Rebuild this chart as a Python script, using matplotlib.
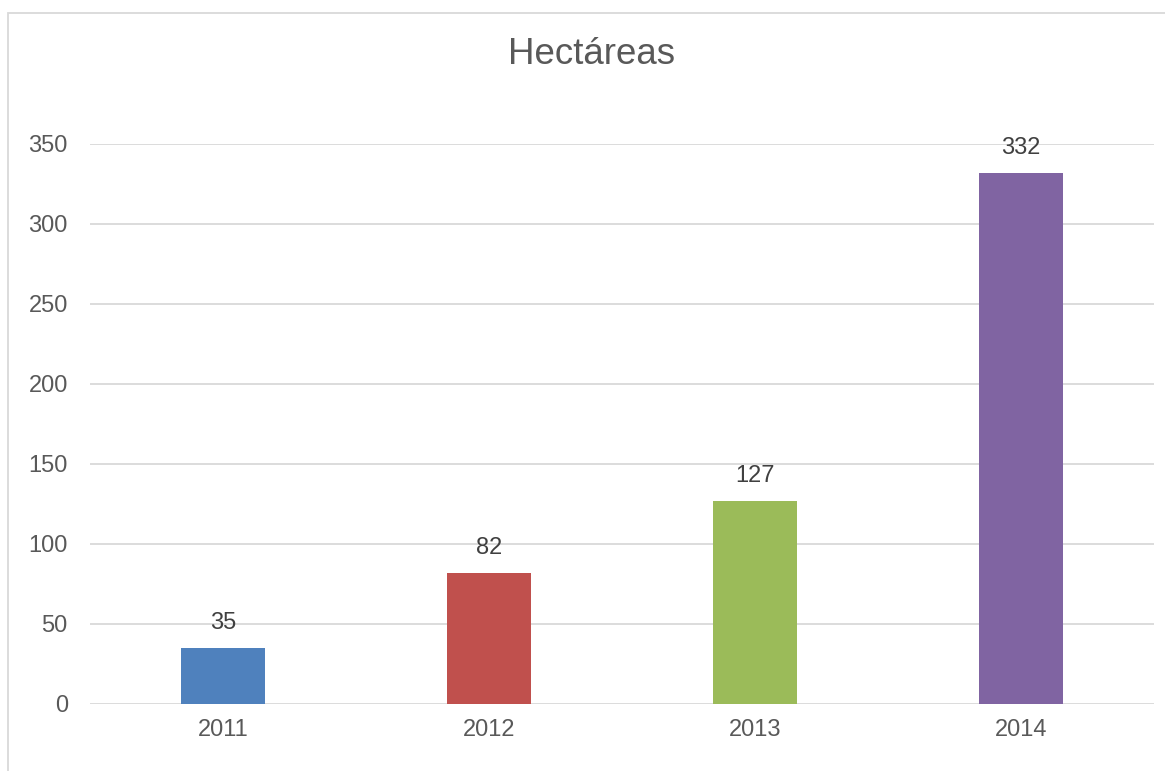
import matplotlib.pyplot as plt
from matplotlib.patches import Rectangle

years = ["2011", "2012", "2013", "2014"]
hectareas = [35, 82, 127, 332]
bar_colors = ["#4F81BD", "#C0504D", "#9BBB59", "#8064A2"]
y_ticks = [0, 50, 100, 150, 200, 250, 300, 350]

W, H = 1165, 771
plt.rcParams['font.family'] = ['Liberation Sans', 'DejaVu Sans']

fig = plt.figure(figsize=(W / 100, H / 100), dpi=100)

# outer chart frame (runs off the right and bottom edges)
fig.patches.append(Rectangle((7.5 / W, -0.05), 1.2, 1 - 12.5 / H + 0.05,
                             transform=fig.transFigure, fill=False,
                             edgecolor="#D9D9D9", linewidth=1.3))

ax = fig.add_axes([90 / W, (H - 704) / H, (1154 - 90) / W, 560 / H])
x = range(len(years))
bars = ax.bar(x, hectareas, width=0.316, color=bar_colors, zorder=3)

ax.set_xlim(-0.5, len(years) - 0.5)
ax.set_ylim(0, 350)
ax.set_yticks(y_ticks)
ax.set_xticks(list(x))
ax.set_xticklabels(years)
ax.yaxis.grid(True, color="#D9D9D9", linewidth=1.3, zorder=0)
ax.set_axisbelow(True)
for s in ax.spines.values():
    s.set_visible(False)
ax.tick_params(axis="both", length=0, labelsize=17, labelcolor="#595959")
ax.tick_params(axis="y", pad=16)
ax.tick_params(axis="x", pad=11)

for b, v in zip(bars, hectareas):
    ax.annotate(str(v), (b.get_x() + b.get_width() / 2, v),
                xytext=(0, 10), textcoords="offset points",
                ha="center", va="bottom", fontsize=17, color="#404040")

fig.text(592 / W, 1 - 55 / H, "Hectáreas", ha="center", va="center",
         fontsize=26.5, color="#595959")

fig.savefig("out.png", dpi=100)
